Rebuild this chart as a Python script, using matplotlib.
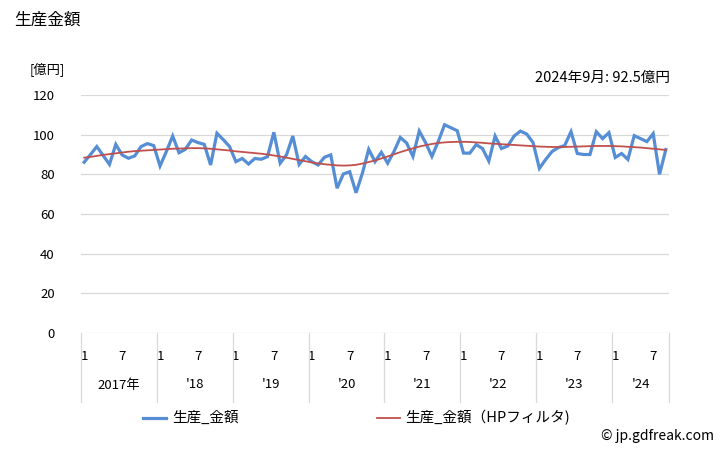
import numpy as np
import matplotlib; matplotlib.use("Agg"); import matplotlib.pyplot as plt
from matplotlib.transforms import blended_transform_factory as btf
plt.rcParams['font.family'] = ['Noto Sans CJK JP', 'DejaVu Sans']

# monthly production value (億円), Jan 2017 - Sep 2024
amount = [86.1, 90.0, 94.0, 89.5, 85.0, 95.1, 89.8, 88.1, 89.3, 94.0, 95.5, 94.5,
          84.2, 91.5, 99.3, 90.9, 92.6, 97.3, 96.0, 95.1, 84.7, 100.7, 97.5, 94.0,
          86.4, 88.0, 85.2, 88.0, 87.6, 88.9, 101.2, 85.6, 89.8, 99.3, 85.0, 89.0,
          86.4, 84.7, 88.6, 89.8, 73.0, 80.2, 81.3, 70.7, 80.5, 92.6, 86.4, 91.1,
          85.6, 91.5, 98.6, 95.8, 89.0, 101.8, 96.0, 89.0, 96.5, 105.0, 103.5, 102.0,
          90.7, 90.7, 95.0, 93.0, 86.7, 99.3, 93.0, 94.3, 99.3, 101.8, 100.3, 96.0,
          83.0, 87.5, 91.5, 93.5, 94.5, 101.5, 90.5, 90.0, 90.0, 101.5, 98.0, 101.0,
          88.5, 90.5, 87.5, 99.5, 98.0, 96.5, 100.5, 80.0, 92.5]
hp = [88.4, 88.8, 89.3, 89.8, 90.2, 90.6, 91.0, 91.4, 91.7, 91.9, 92.1, 92.3,
      92.5, 92.7, 92.9, 93.0, 93.1, 93.2, 93.2, 93.1, 92.9, 92.6, 92.3, 92.0,
      91.6, 91.3, 91.0, 90.7, 90.4, 90.0, 89.5, 89.0, 88.4, 87.8, 87.2, 86.6,
      86.0, 85.5, 85.1, 84.8, 84.5, 84.4, 84.5, 84.8, 85.4, 86.2, 87.0, 88.0,
      89.0, 90.1, 91.2, 92.2, 93.1, 94.0, 94.7, 95.3, 95.8, 96.1, 96.3, 96.4,
      96.4, 96.3, 96.1, 95.9, 95.6, 95.4, 95.2, 95.0, 94.8, 94.6, 94.4, 94.2,
      94.0, 93.9, 93.8, 93.8, 93.8, 93.9, 94.0, 94.1, 94.2, 94.3, 94.3, 94.3,
      94.2, 94.1, 93.9, 93.7, 93.5, 93.2, 92.9, 92.6, 92.3]
year_labels = ["2017年", "'18", "'19", "'20", "'21", "'22", "'23", "'24"]
month_labels = ["1", "7"]

n = len(amount); x = np.arange(n)
fig = plt.figure(figsize=(7.28, 4.5), dpi=100)
ax = fig.add_axes([81/728, 1-333/450, 588/728, 238/450])
ax.plot(x, amount, color="#558ED5", lw=2.3, solid_joinstyle="miter", zorder=3)
ax.plot(x, hp, color="#C0504D", lw=1.3, zorder=4)
ax.set_xlim(-0.5, n-0.5); ax.set_ylim(0, 120)
ax.set_yticks(range(0, 121, 20))
ax.tick_params(axis="y", length=0, labelsize=9.5, pad=19)
ax.grid(axis="y", color="#d9d9d9", lw=0.9); ax.set_axisbelow(True)
for s in ax.spines.values(): s.set_visible(False)
mt = [i for i in range(n) if i % 12 in (0, 6)]
ax.set_xticks(mt); ax.set_xticklabels([month_labels[(i % 12)//6] for i in mt])
ax.tick_params(axis="x", length=0, labelsize=9.5, pad=12)
tr = btf(ax.transData, ax.transAxes)
for b in list(range(0, n, 12)) + [n]:
    ax.plot([b-0.5, b-0.5], [0, -69/238], color="#d9d9d9", lw=0.9, transform=tr, clip_on=False)
for k, lab in enumerate(year_labels):
    c = (12*k - 0.5 + min(12*k+12, n) - 0.5)/2
    ax.text(c, -52/238, lab, transform=tr, ha="center", va="center", fontsize=9.5)

fig.text(14/728, 1-20/450, "生産金額", fontsize=12, va="center", ha="left")
fig.text(30/728, 1-70/450, "[億円]", fontsize=9.5, va="center", ha="left")
fig.text(670/728, 1-78/450, "2024年9月: 92.5億円", fontsize=10.5, va="center", ha="right")
fig.add_artist(plt.Line2D([143/728, 166/728], [1-418/450]*2, color="#558ED5", lw=2.3))
fig.text(172/728, 1-418/450, "生産_金額", fontsize=10.5, va="center")
fig.add_artist(plt.Line2D([377/728, 400/728], [1-418/450]*2, color="#C0504D", lw=1.3))
fig.text(405/728, 1-418/450, "生産_金額（HPフィルタ)", fontsize=10.5, va="center")
fig.text(714/728, 1-436/450, "© jp.gdfreak.com", fontsize=10, va="center", ha="right")
fig.savefig("out.png", dpi=100)
